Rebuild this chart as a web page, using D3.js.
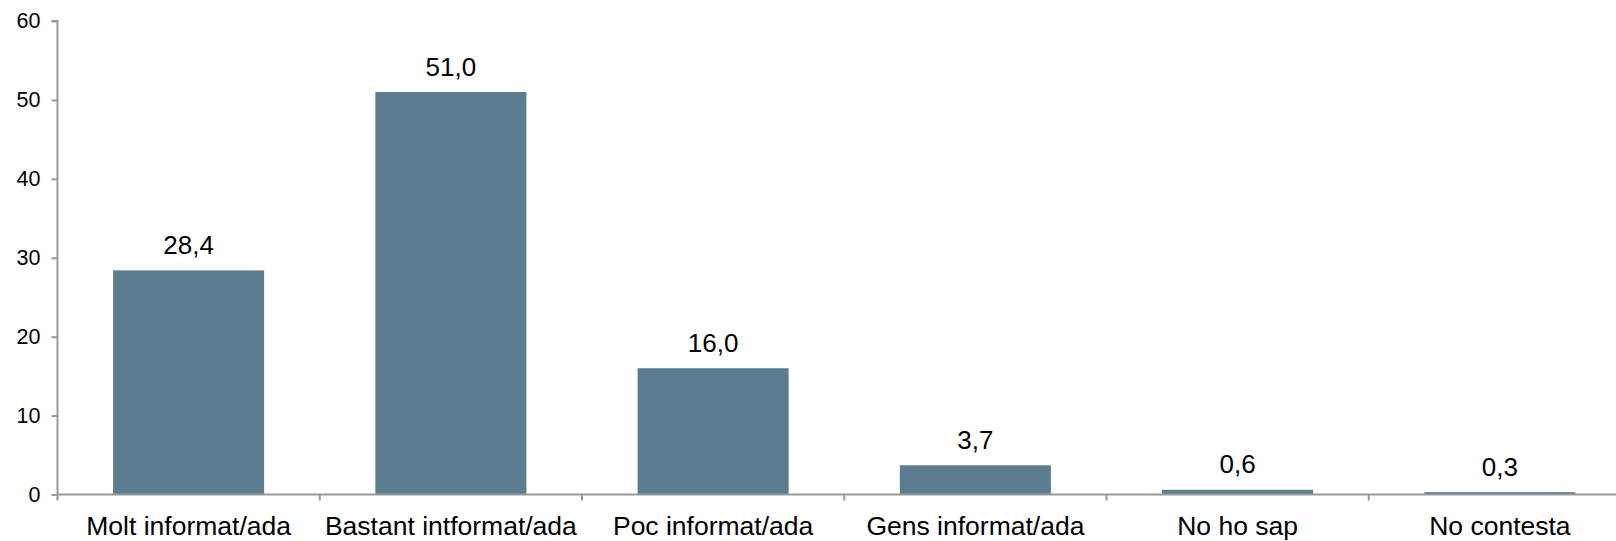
<!DOCTYPE html>
<html>
<head>
<meta charset="utf-8">
<script src="https://cdn.jsdelivr.net/npm/d3@7"></script>
<style>
  html, body { margin: 0; padding: 0; background: #fff; }
  svg { display: block; font-family: "Liberation Sans", Arial, sans-serif; }
</style>
</head>
<body>
<svg id="chart" width="1616" height="541"></svg>
<script>
const categories = ["Molt informat/ada", "Bastant intformat/ada", "Poc informat/ada", "Gens informat/ada", "No ho sap", "No contesta"];
const values = [28.4, 51.0, 16.0, 3.7, 0.6, 0.3];
const valueLabels = ["28,4", "51,0", "16,0", "3,7", "0,6", "0,3"];
const yTicks = [0, 10, 20, 30, 40, 50, 60];

const svg = d3.select("#chart");
const mLeft = 57.5, mRight = 1631, mTop = 21, mBottom = 494.5;

const x = d3.scaleBand().domain(categories).range([mLeft, mRight]).paddingInner(0.424).paddingOuter(0.212);
const band = d3.scaleBand().domain(categories).range([mLeft, mRight]);
const y = d3.scaleLinear().domain([0, 60]).range([mBottom, mTop]);

const axisColor = "#999";

// bars
svg.append("g").selectAll("rect").data(values).join("rect")
  .attr("x", (d, i) => x(categories[i]))
  .attr("width", x.bandwidth())
  .attr("y", d => y(d))
  .attr("height", d => mBottom - y(d))
  .attr("fill", "#5c7d8f");

// value labels
svg.append("g").selectAll("text").data(values).join("text")
  .attr("x", (d, i) => x(categories[i]) + x.bandwidth() / 2)
  .attr("y", d => y(d) - 16.5)
  .attr("text-anchor", "middle")
  .attr("font-size", "26px")
  .attr("fill", "#000")
  .text((d, i) => valueLabels[i]);

// y axis
const yAxis = svg.append("g").attr("transform", `translate(${mLeft},0)`)
  .call(d3.axisLeft(y).tickValues(yTicks).tickSize(6).tickPadding(11).tickFormat(d3.format("d")));
yAxis.select(".domain").attr("stroke", axisColor).attr("stroke-width", 2).attr("d", `M-6,${mTop}H0V${mBottom}`);
yAxis.selectAll(".tick line").attr("stroke", axisColor).attr("stroke-width", 2);
yAxis.selectAll(".tick text").attr("font-size", "21.5px").attr("fill", "#000")
  .attr("font-family", "'Liberation Sans', Arial, sans-serif");

// x axis
const xAxis = svg.append("g").attr("transform", `translate(0,${mBottom})`)
  .call(d3.axisBottom(band).tickSize(0).tickPadding(22));
xAxis.select(".domain").attr("stroke", axisColor).attr("stroke-width", 2).attr("d", `M${mLeft},0H${mRight}`);
xAxis.selectAll(".tick text").attr("font-size", "26.5px").attr("fill", "#000")
  .attr("font-family", "'Liberation Sans', Arial, sans-serif")
  .attr("dy", "0.71em");
// category boundary ticks
const bounds = categories.map(c => band(c)).concat([mRight]);
svg.append("g").selectAll("line").data(bounds).join("line")
  .attr("x1", d => d).attr("x2", d => d)
  .attr("y1", mBottom).attr("y2", mBottom + 6)
  .attr("stroke", axisColor).attr("stroke-width", 2);
</script>
</body>
</html>
